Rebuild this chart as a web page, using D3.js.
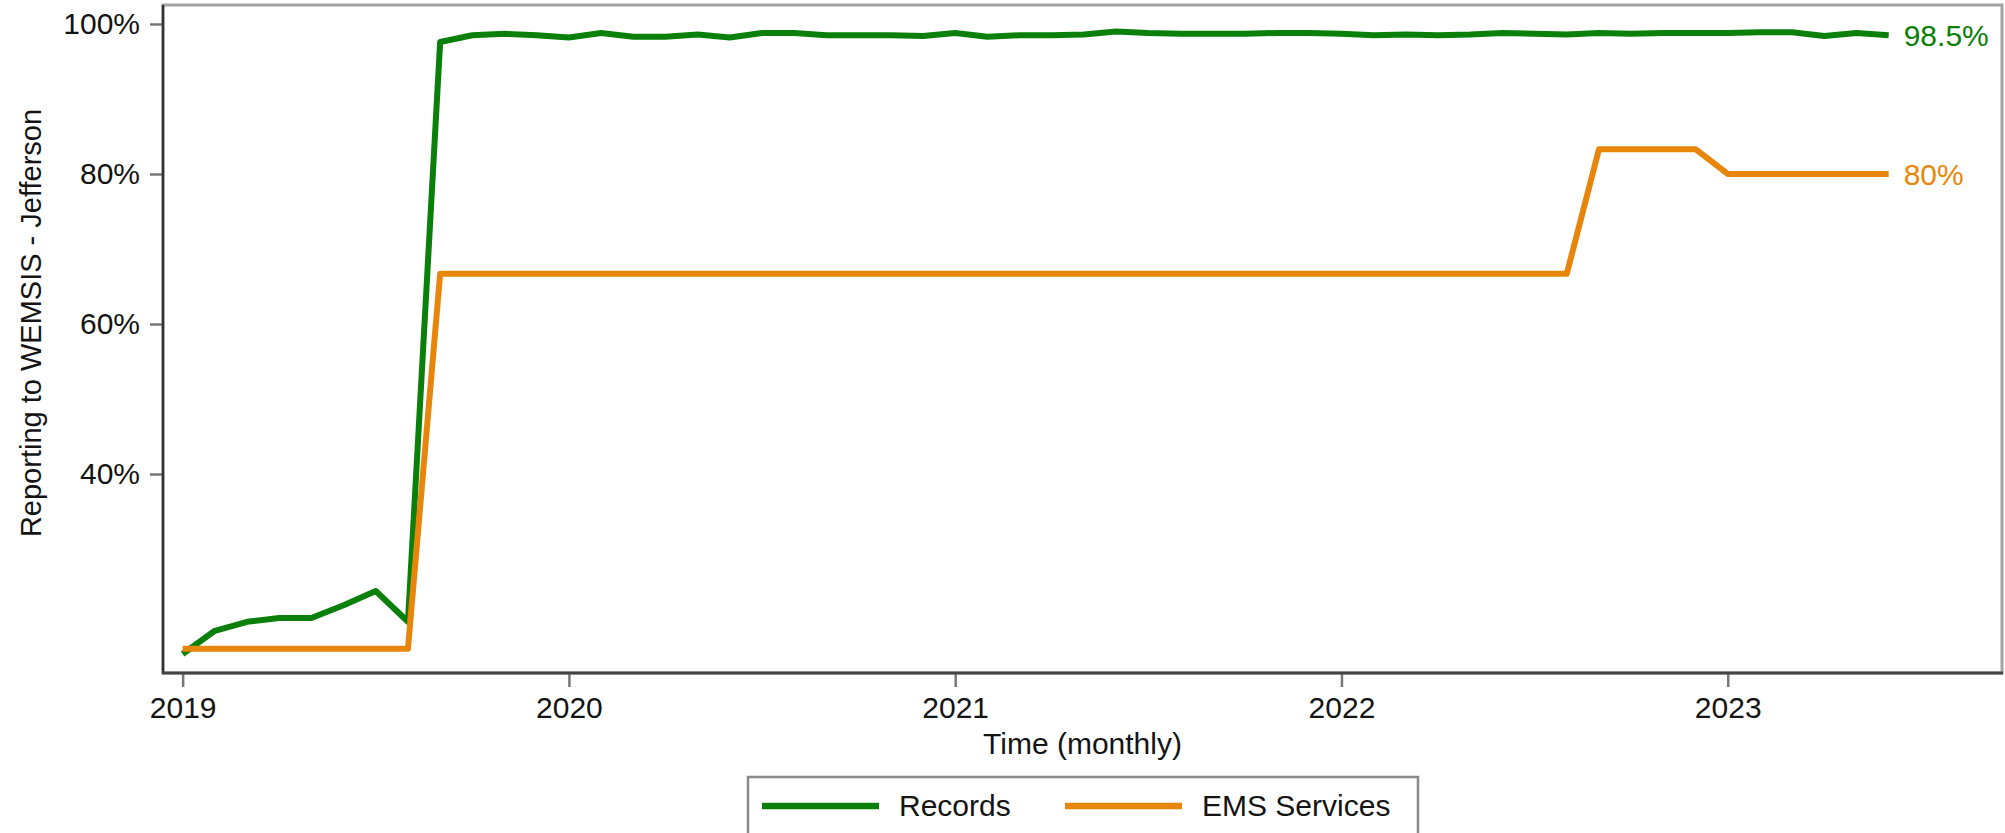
<!DOCTYPE html>
<html>
<head>
<meta charset="utf-8">
<script src="https://cdn.jsdelivr.net/npm/d3@7"></script>
<style>
  html, body { margin: 0; padding: 0; background: #fff; }
  svg { display: block; font-family: "Liberation Sans", Arial, sans-serif; }
</style>
</head>
<body>
<svg id="chart" width="2005" height="833"></svg>
<script>
// ---- data ----
const months = [
  "2019-01","2019-02","2019-03","2019-04","2019-05","2019-06","2019-07","2019-08","2019-09","2019-10","2019-11","2019-12",
  "2020-01","2020-02","2020-03","2020-04","2020-05","2020-06","2020-07","2020-08","2020-09","2020-10","2020-11","2020-12",
  "2021-01","2021-02","2021-03","2021-04","2021-05","2021-06","2021-07","2021-08","2021-09","2021-10","2021-11","2021-12",
  "2022-01","2022-02","2022-03","2022-04","2022-05","2022-06","2022-07","2022-08","2022-09","2022-10","2022-11","2022-12",
  "2023-01","2023-02","2023-03","2023-04","2023-05","2023-06"
];
const records = [
  16.0, 19.1, 20.3, 20.8, 20.8, 22.5, 24.4, 20.3, 97.6, 98.5, 98.7, 98.5,
  98.2, 98.8, 98.3, 98.3, 98.6, 98.2, 98.8, 98.8, 98.5, 98.5, 98.5, 98.4,
  98.8, 98.3, 98.5, 98.5, 98.6, 99.0, 98.8, 98.7, 98.7, 98.7, 98.8, 98.8,
  98.7, 98.5, 98.6, 98.5, 98.6, 98.8, 98.7, 98.6, 98.8, 98.7, 98.8, 98.8,
  98.8, 98.9, 98.9, 98.4, 98.8, 98.5
];
const emsServices = [
  16.7, 16.7, 16.7, 16.7, 16.7, 16.7, 16.7, 16.7, 66.7, 66.7, 66.7, 66.7,
  66.7, 66.7, 66.7, 66.7, 66.7, 66.7, 66.7, 66.7, 66.7, 66.7, 66.7, 66.7,
  66.7, 66.7, 66.7, 66.7, 66.7, 66.7, 66.7, 66.7, 66.7, 66.7, 66.7, 66.7,
  66.7, 66.7, 66.7, 66.7, 66.7, 66.7, 66.7, 66.7, 83.3, 83.3, 83.3, 83.3,
  80.0, 80.0, 80.0, 80.0, 80.0, 80.0
];
const seriesNames = ["Records", "EMS Services"];
const seriesColors = ["#0a800a", "#e8860c"];
const endLabels = ["98.5%", "80%"];
const yTicks = [40, 60, 80, 100];
const xTickMonths = ["2019-01", "2020-01", "2021-01", "2022-01", "2023-01"];
const xTickLabels = ["2019", "2020", "2021", "2022", "2023"];
const yTitle = "Reporting to WEMSIS - Jefferson";
const xTitle = "Time (monthly)";

// ---- layout ----
const plot = { left: 163, right: 2002, top: 5, bottom: 673 };
const svg = d3.select("#chart");
const textColor = "#141414";
const fontSize = 30;

const monthIndex = m => months.indexOf(m);
const x = d3.scaleLinear().domain([-0.61, 56.52]).range([plot.left, plot.right]);
const y = d3.scaleLinear().domain([13.47, 102.53]).range([plot.bottom, plot.top]);

// plot region border
svg.append("rect")
  .attr("x", plot.left).attr("y", plot.top)
  .attr("width", plot.right - plot.left).attr("height", plot.bottom - plot.top)
  .attr("fill", "#fff").attr("stroke", "#a3a3a3").attr("stroke-width", 3);

// y axis
const yAxis = d3.axisLeft(y).tickValues(yTicks).tickSize(13).tickPadding(10)
  .tickFormat(d => d + "%");
const gy = svg.append("g").attr("transform", `translate(${plot.left},0)`).call(yAxis);
gy.select(".domain").remove();
gy.selectAll(".tick line").attr("stroke", "#777").attr("stroke-width", 2.5);
gy.selectAll(".tick text").attr("font-size", fontSize).attr("fill", textColor)
  .attr("font-family", "Liberation Sans, Arial, sans-serif");
svg.append("line")
  .attr("x1", plot.left).attr("x2", plot.left)
  .attr("y1", plot.top).attr("y2", plot.bottom + 1)
  .attr("stroke", "#333").attr("stroke-width", 2.5);

// x axis
const xAxis = d3.axisBottom(x).tickValues(xTickMonths.map(monthIndex)).tickSize(14).tickPadding(10)
  .tickFormat((d, i) => xTickLabels[i]);
const gx = svg.append("g").attr("transform", `translate(0,${plot.bottom})`).call(xAxis);
gx.select(".domain").remove();
gx.selectAll(".tick line").attr("stroke", "#777").attr("stroke-width", 2.5);
gx.selectAll(".tick text").attr("font-size", fontSize).attr("fill", textColor)
  .attr("font-family", "Liberation Sans, Arial, sans-serif");
svg.append("line")
  .attr("x1", plot.left - 1).attr("x2", plot.right + 1)
  .attr("y1", plot.bottom).attr("y2", plot.bottom)
  .attr("stroke", "#444").attr("stroke-width", 3);

// lines
const seriesData = [records, emsServices];
const line = d3.line().x((d, i) => x(i)).y(d => y(d)).curve(d3.curveLinear);
seriesData.forEach((vals, s) => {
  svg.append("path")
    .datum(vals)
    .attr("d", line)
    .attr("fill", "none")
    .attr("stroke", seriesColors[s])
    .attr("stroke-width", 6)
    .attr("stroke-linejoin", "round")
    .attr("stroke-linecap", "butt");
  const last = vals.length - 1;
  svg.append("text")
    .attr("x", x(last) + 15)
    .attr("y", y(vals[last]))
    .attr("dy", "0.36em")
    .attr("font-size", fontSize)
    .attr("fill", seriesColors[s])
    .text(endLabels[s]);
});

// axis titles
svg.append("text")
  .attr("transform", `translate(41,${(plot.top + plot.bottom) / 2 - 16}) rotate(-90)`)
  .attr("text-anchor", "middle")
  .attr("font-size", 29)
  .attr("fill", textColor)
  .text(yTitle);
svg.append("text")
  .attr("x", (plot.left + plot.right) / 2)
  .attr("y", 754)
  .attr("text-anchor", "middle")
  .attr("font-size", fontSize)
  .attr("fill", textColor)
  .text(xTitle);

// legend
const legend = svg.append("g");
legend.append("rect")
  .attr("x", 748).attr("y", 777)
  .attr("width", 670).attr("height", 80)
  .attr("fill", "#fff").attr("stroke", "#8a8a8a").attr("stroke-width", 2.5);
const legendItems = [
  { x1: 762, x2: 879, tx: 899 },
  { x1: 1065, x2: 1182, tx: 1202 }
];
legendItems.forEach((it, s) => {
  legend.append("line")
    .attr("x1", it.x1).attr("x2", it.x2)
    .attr("y1", 806).attr("y2", 806)
    .attr("stroke", seriesColors[s]).attr("stroke-width", 6.5);
  legend.append("text")
    .attr("x", it.tx).attr("y", 816)
    .attr("font-size", fontSize)
    .attr("fill", textColor)
    .text(seriesNames[s]);
});
</script>
</body>
</html>
